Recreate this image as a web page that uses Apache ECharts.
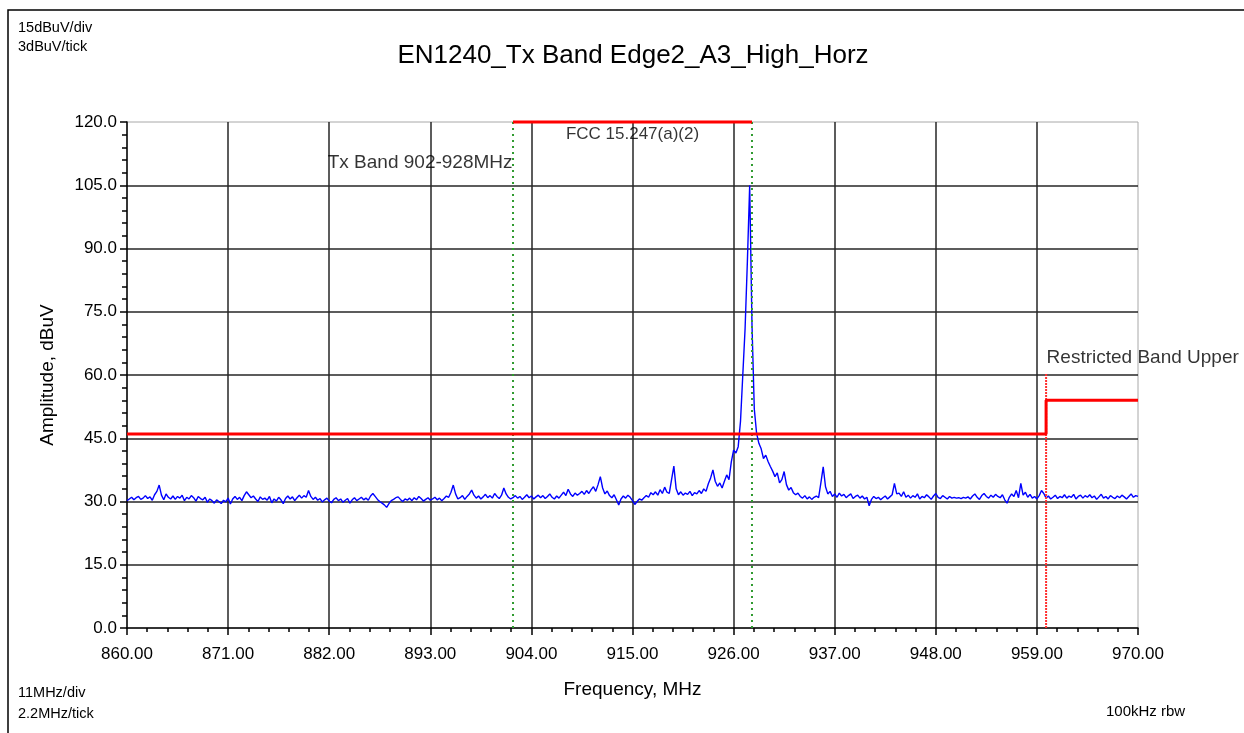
<!DOCTYPE html>
<html>
<head>
<meta charset="utf-8">
<title>EN1240_Tx Band Edge2_A3_High_Horz</title>
<script src="https://cdn.jsdelivr.net/npm/echarts@6/dist/echarts.min.js"></script>
<style>
	html, body { margin: 0; padding: 0; background: #fff; }
	#main { width: 1244px; height: 733px; }
</style>
</head>
<body>
<div id="main"></div>
<script>
// sweep: 860 - 970 MHz, one reading every 0.25 MHz
var startFreq = 860;
var stepFreq = 0.25;
var amplitude = [
	30.2, 30.6, 31.0, 30.4, 30.9, 31.2, 30.5, 30.8, 31.4, 30.7, 31.1, 30.3, 31.6, 32.4, 33.9, 31.5, 30.4, 31.8, 31.0, 30.6,
	31.3, 30.5, 31.2, 30.8, 31.5, 30.2, 31.0, 30.6, 31.4, 30.9, 30.1, 31.2, 30.7, 30.4, 31.0, 29.8, 30.6, 30.2, 29.6, 30.4,
	30.0, 29.5, 30.3, 29.9, 30.8, 29.4, 30.6, 31.2, 30.5, 31.0, 30.2, 31.4, 32.3, 31.6, 30.9, 31.3, 30.6, 30.0, 31.1, 30.5,
	30.8, 30.3, 31.2, 29.7, 30.6, 30.1, 31.0, 30.4, 29.5, 30.7, 31.3, 30.6, 31.1, 30.2, 30.9, 31.5, 30.8, 31.4, 31.0, 32.6,
	31.2, 30.5, 31.0, 30.3, 30.7, 29.9, 30.4, 30.8, 30.1, 29.7, 30.5, 30.9, 30.2, 30.6, 29.8, 30.3, 30.7, 29.6, 30.4, 30.9,
	30.2, 30.6, 31.0, 30.4, 30.8, 30.3, 31.3, 31.9, 31.2, 30.5, 30.0, 29.6, 29.2, 28.6, 29.5, 30.2, 30.5, 30.9, 31.1, 30.5,
	30.0, 30.6, 30.3, 30.8, 30.2, 30.9, 30.4, 31.2, 30.7, 30.1, 30.5, 30.9, 30.3, 30.6, 31.0, 30.4, 30.8, 30.2, 30.7, 31.3,
	31.0, 32.2, 33.9, 31.8, 30.6, 30.9, 31.4, 30.5, 31.2, 31.8, 32.7, 31.5, 30.8, 31.3, 30.6, 31.1, 31.7, 30.9, 31.4, 30.8,
	31.9, 31.2, 30.7, 31.5, 33.2, 31.8, 31.0, 30.6, 30.9, 31.4, 30.8, 31.2, 30.5, 31.0, 31.6, 30.9, 31.3, 30.6, 31.1, 31.5,
	30.9, 31.4, 30.7, 31.2, 31.8, 31.0, 30.6, 31.3, 30.8, 31.5, 32.2, 31.4, 32.9, 31.8, 31.2, 32.0, 31.5, 31.9, 32.4, 31.7,
	32.6, 31.9, 32.8, 33.5, 32.4, 34.0, 35.9, 33.2, 31.8, 32.5, 31.4, 30.9, 31.6, 30.4, 29.2, 30.6, 31.3, 30.8, 31.5, 31.0,
	30.2, 29.3, 30.0, 30.6, 30.3, 30.9, 31.4, 31.0, 32.1, 31.6, 32.3, 31.5, 32.8, 31.9, 33.4, 32.2, 31.9, 35.2, 38.4, 33.0,
	31.6, 32.3, 31.5, 32.0, 31.7, 32.4, 31.4, 32.1, 31.8, 32.6, 31.9, 33.0, 32.4, 34.2, 35.6, 37.5, 34.8, 33.6, 34.4, 33.2,
	34.8, 36.3, 35.2, 39.4, 42.2, 41.5, 43.0, 49.0, 60.0, 71.0, 87.0, 105.0, 72.0, 52.0, 46.2, 43.8, 42.5, 40.2, 41.0, 39.5,
	38.3, 37.2, 35.9, 36.8, 34.4, 35.2, 37.1, 34.0, 32.7, 33.3, 32.1, 31.6, 32.0, 31.2, 30.8, 31.4, 30.6, 31.1, 30.5, 31.0,
	31.3, 30.9, 34.5, 38.2, 33.5, 31.8, 32.4, 31.2, 31.8, 31.0, 32.0, 31.3, 31.7, 30.9, 31.4, 31.8, 30.7, 31.2, 31.5, 30.8,
	31.3, 30.6, 31.0, 29.0, 30.5, 31.2, 30.7, 31.0, 30.4, 30.9, 31.3, 30.6, 31.1, 31.6, 34.3, 31.8, 32.0, 31.2, 32.3, 31.0,
	31.5, 30.8, 31.4, 31.0, 31.8, 30.6, 31.2, 30.9, 31.6, 31.1, 30.5, 31.3, 31.9, 31.0, 30.7, 31.4, 31.0, 30.6, 31.2, 30.8,
	31.0, 30.8, 30.9, 30.7, 31.0, 30.8, 31.1, 30.6, 31.3, 31.8, 31.0, 30.5, 31.4, 31.9, 31.2, 30.8, 31.5, 31.0, 31.7, 31.2,
	30.9, 31.6, 30.4, 29.6, 31.0, 31.8, 31.2, 32.6, 30.9, 34.3, 31.5, 32.2, 31.0, 31.7, 30.8, 31.2, 30.6, 31.4, 32.6, 31.9,
	30.8, 31.3, 30.6, 31.0, 31.5, 30.7, 31.2, 30.9, 31.6, 30.8, 31.3, 31.0, 31.7, 30.6, 31.2, 31.5, 30.8, 31.4, 31.0, 31.6,
	30.9, 31.3, 30.5, 31.1, 31.7, 30.8, 31.2, 30.6, 31.4, 31.0, 30.7, 31.3, 30.9, 31.5, 31.1, 30.6, 31.2, 31.8, 31.0, 31.4,
	31.2
];

// FCC 15.209 limit, stepping up at the restricted band edge
var limitFreq = [860, 960, 960, 970];
var limitLevel = [46, 46, 54, 54];

// FCC 15.247(a)(2) band bar
var fccFreq = [902, 928];
var fccLevel = 120;

var txBandEdges = [902, 928];
var restrictedEdge = 960;
var restrictedTop = 60.5;

var noteText = ['Tx Band 902-928MHz', 'FCC 15.247(a)(2)', 'Restricted Band Upper'];
var noteFreq = [902, 915, 960];
var noteLevel = [110.3, 117, 64];

var xMin = 860, xMax = 970, xStep = 11;
var yMin = 0, yMax = 120, yStep = 15;

var FONT = '"Liberation Sans", Arial, sans-serif';

// x axis runs in MHz above 860 so that ticks start on 860
function fx(f) {
	return f - xMin;
}

var trace = [];
for (var i = 0; i < amplitude.length; i++) {
	trace.push([fx(startFreq + i * stepFreq), amplitude[i]]);
}
var limitData = [];
for (var i = 0; i < limitFreq.length; i++) {
	limitData.push([fx(limitFreq[i]), limitLevel[i]]);
}
var fccData = [[fx(fccFreq[0]), fccLevel], [fx(fccFreq[1]), fccLevel]];

function vline(f, top, color, type) {
	return {
		type : 'line',
		data : [[fx(f), yMin], [fx(f), top]],
		symbol : 'none',
		silent : true,
		z : 3,
		lineStyle : { color : color, width : 2, type : type }
	};
}

var notePos = ['left', 'inside', 'right'];
var noteSize = [19, 17, 19];
var noteData = [];
for (var i = 0; i < noteText.length; i++) {
	noteData.push({
		value : [fx(noteFreq[i]), noteLevel[i]],
		name : noteText[i],
		label : { position : notePos[i], distance : 0, fontSize : noteSize[i] }
	});
}

var chart = echarts.init(document.getElementById('main'));
var option = {
	backgroundColor : '#fff',
	animation : false,
	textStyle : { fontFamily : FONT },
	grid : {
		left : 127,
		top : 122,
		width : 1011,
		height : 506,
		show : true,
		borderColor : '#a8a8a8',
		borderWidth : 1
	},
	xAxis : {
		type : 'value',
		min : 0,
		max : xMax - xMin,
		interval : xStep,
		name : 'Frequency, MHz',
		nameLocation : 'middle',
		nameGap : 52,
		nameTextStyle : { color : '#000', fontSize : 19, fontFamily : FONT },
		axisLine : { show : true, onZero : false, lineStyle : { color : '#000', width : 1.5 } },
		axisTick : { show : true, length : 7, lineStyle : { color : '#000', width : 1.5 } },
		minorTick : { show : true, splitNumber : 5, length : 4, lineStyle : { color : '#000', width : 1.5 } },
		axisLabel : {
			color : '#000',
			fontSize : 17,
			margin : 18,
			formatter : function(v) {
				return (v + xMin).toFixed(2);
			}
		},
		splitLine : {
			show : true,
			showMinLine : false,
			showMaxLine : false,
			lineStyle : { color : '#262626', width : 1.5 }
		}
	},
	yAxis : {
		type : 'value',
		min : yMin,
		max : yMax,
		interval : yStep,
		name : 'Amplitude, dBuV',
		nameLocation : 'middle',
		nameGap : 70,
		nameTextStyle : { color : '#000', fontSize : 19, fontFamily : FONT },
		axisLine : { show : true, onZero : false, lineStyle : { color : '#000', width : 1.5 } },
		axisTick : { show : true, length : 7, lineStyle : { color : '#000', width : 1.5 } },
		minorTick : { show : true, splitNumber : 5, length : 5, lineStyle : { color : '#000', width : 1.5 } },
		axisLabel : {
			color : '#000',
			fontSize : 17,
			margin : 10,
			formatter : function(v) {
				return v.toFixed(1);
			}
		},
		splitLine : {
			show : true,
			showMinLine : false,
			showMaxLine : false,
			lineStyle : { color : '#262626', width : 1.5 }
		}
	},
	graphic : [
		{ type : 'rect', silent : true, shape : { x : 8, y : 10, width : 1300, height : 800 }, style : { fill : null, stroke : '#000', lineWidth : 1.5 } },
		{ type : 'text', x : 633, y : 56, style : { text : 'EN1240_Tx Band Edge2_A3_High_Horz', font : '26px ' + FONT, fill : '#000', textAlign : 'center', textVerticalAlign : 'middle' } },
		{ type : 'text', x : 18, y : 28, style : { text : '15dBuV/div', font : '14.5px ' + FONT, fill : '#000', textVerticalAlign : 'middle' } },
		{ type : 'text', x : 18, y : 47, style : { text : '3dBuV/tick', font : '14.5px ' + FONT, fill : '#000', textVerticalAlign : 'middle' } },
		{ type : 'text', x : 18, y : 693, style : { text : '11MHz/div', font : '14.5px ' + FONT, fill : '#000', textVerticalAlign : 'middle' } },
		{ type : 'text', x : 18, y : 714, style : { text : '2.2MHz/tick', font : '14.5px ' + FONT, fill : '#000', textVerticalAlign : 'middle' } },
		{ type : 'text', x : 1106, y : 712, style : { text : '100kHz rbw', font : '15px ' + FONT, fill : '#000', textVerticalAlign : 'middle' } }
	],
	series : [
		{
			name : 'Trace',
			type : 'line',
			data : trace,
			symbol : 'none',
			z : 2,
			lineStyle : { color : '#0000ff', width : 1.4 }
		},
		vline(txBandEdges[0], yMax, '#2f9a2f', [2, 4]),
		vline(txBandEdges[1], yMax, '#2f9a2f', [2, 4]),
		vline(restrictedEdge, restrictedTop, '#ff3030', [2, 1]),
		{
			name : 'Limit',
			type : 'line',
			data : limitData,
			symbol : 'none',
			z : 4,
			lineStyle : { color : '#ff0000', width : 3 }
		},
		{
			name : 'FCC 15.247(a)(2)',
			type : 'line',
			data : fccData,
			symbol : 'none',
			z : 4,
			clip : false,
			lineStyle : { color : '#ff0000', width : 3 }
		},
		{
			name : 'Notes',
			type : 'scatter',
			data : noteData,
			symbolSize : 1,
			silent : true,
			itemStyle : { color : 'rgba(0,0,0,0)' },
			label : {
				show : true,
				color : '#000',
				fontSize : 17,
				fontFamily : FONT,
				formatter : '{b}'
			}
		}
	]
};
chart.setOption(option);
window.addEventListener('resize', chart.resize);
</script>
</body>
</html>
